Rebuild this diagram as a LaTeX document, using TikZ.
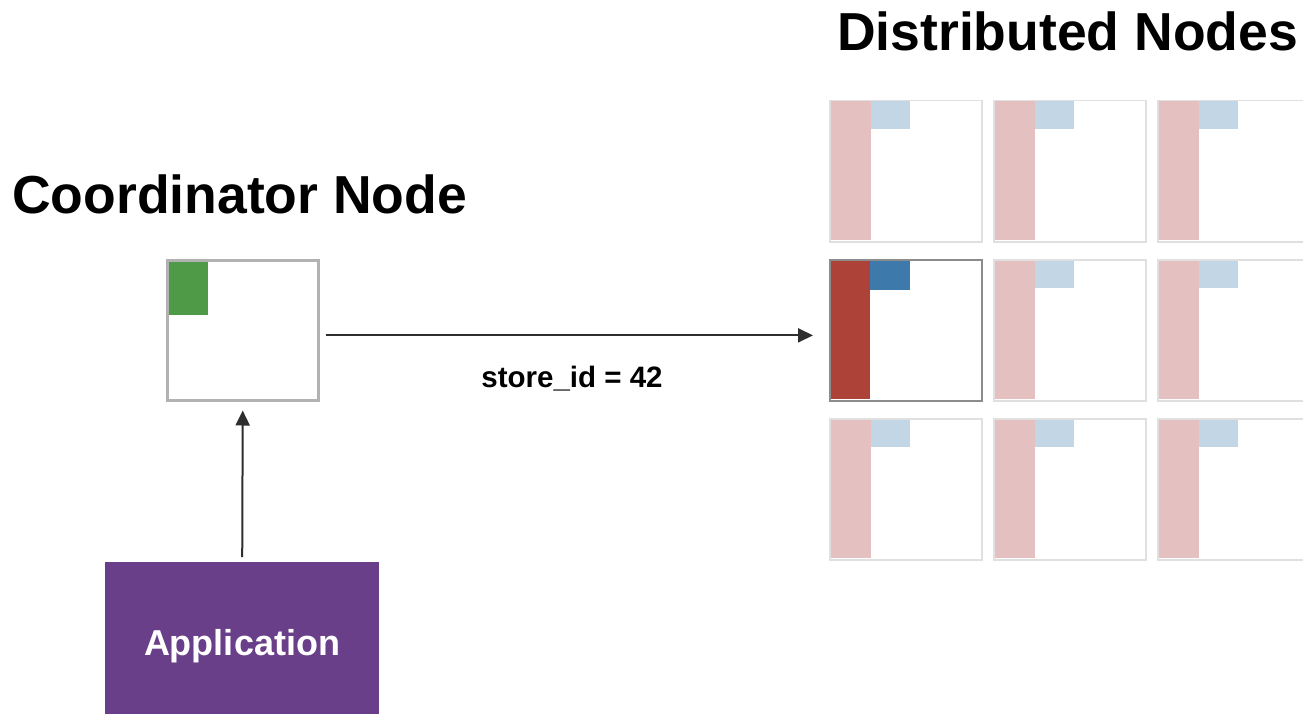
\documentclass[tikz,border=0pt]{standalone}
\usepackage{fontspec}
\setmainfont{Liberation Sans}
\usetikzlibrary{arrows.meta,calc}

\definecolor{boxgray}{HTML}{B2B2B2}
\definecolor{cellgray}{HTML}{E0E0E0}
\definecolor{activegray}{HTML}{8C8C8C}
\definecolor{leaderred}{HTML}{AD4238}
\definecolor{leaderblue}{HTML}{3D79AB}
\definecolor{palered}{HTML}{E4C1C0}
\definecolor{paleblue}{HTML}{C3D6E5}
\definecolor{shardgreen}{HTML}{4F9A46}
\definecolor{apppurple}{HTML}{6A3F8A}
\definecolor{arrowgray}{HTML}{2E2E2E}

\tikzset{
  title/.style={font=\bfseries\fontsize{53.5}{60}\selectfont, inner sep=0pt},
  coordbox/.style={draw=boxgray, line width=2.5pt, anchor=north west,
    minimum width=151pt, minimum height=140pt, inner sep=0pt},
  cellbox/.style={draw=cellgray, line width=1.5pt, anchor=north west,
    minimum width=152pt, minimum height=141pt, inner sep=0pt},
  activebox/.style={cellbox, draw=activegray, line width=2pt},
  appbox/.style={fill=apppurple, anchor=north west, minimum width=274pt,
    minimum height=152pt, inner sep=0pt},
  flow/.style={draw=arrowgray, line width=2pt, -{Triangle[length=15pt,width=14pt]}},
}

\begin{document}
\begin{tikzpicture}[x=1pt,y=-1pt]
\clip (0,0) rectangle (1303,714);
\fill[white] (0,0) rectangle (1303,714);

% headings
\node[title, anchor=base west] (coordtitle) at (12,213) {Coordinator Node};
\node[title, anchor=base west] (disttitle) at (837,51) {Distributed Nodes};

% coordinator node with its green shard
\fill[shardgreen] (167,260) rectangle (208,315);
\node[coordbox] (coord) at (166,259) {};

% grid of distributed nodes
\foreach \r/\y in {1/100,2/259,3/418}{
  \foreach \c/\x in {1/829,2/993,3/1157}{
    \fill[palered] (\x+1,\y+1) rectangle (\x+42,\y+140);
    \fill[paleblue] (\x+42,\y+1) rectangle (\x+81,\y+29);
    \node[cellbox] (dn\r\c) at (\x,\y) {};
  }
}
% the node that receives the routed request
\fill[white] (dn21.north west) rectangle (dn21.south east);
\fill[leaderred] (830,260) rectangle (870,399);
\fill[leaderblue] (870,260) rectangle (910,290);
\node[activebox] (dn21) at (829,259) {};

% application
\node[appbox] (app) at (105,562) {};
\node[anchor=base, text=white, font=\bfseries\fontsize{36}{40}\selectfont, inner sep=0pt]
  (applabel) at (242,655) {Application};

% request flow
\coordinate (routefrom) at ($(coord.north east)!0.536!(coord.south east)$);
\coordinate (routeto) at (dn21.west |- routefrom);
\draw[flow, shorten <=5pt, shorten >=9pt] (app.north) -- (coord.south);
\draw[flow, shorten <=6pt, shorten >=16pt] (routefrom) -- (routeto);
\node[anchor=base, font=\bfseries\fontsize{29.5}{33}\selectfont, inner sep=0pt]
  (routelabel) at (572,387) {store\_id = 42};
\end{tikzpicture}
\end{document}
